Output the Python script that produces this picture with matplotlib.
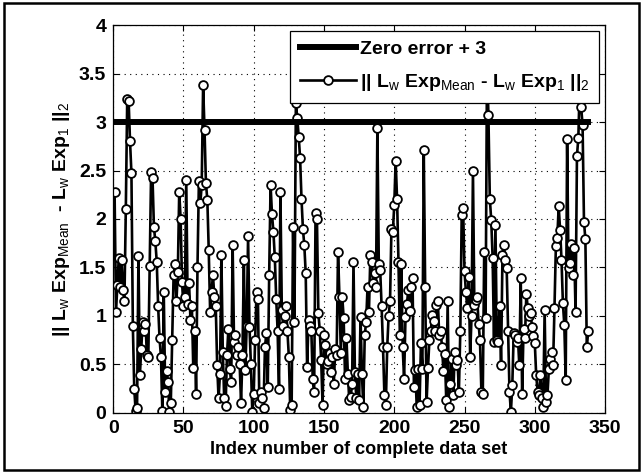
import numpy as np
import matplotlib
matplotlib.use("Agg")
import matplotlib.pyplot as plt
from matplotlib.patches import Rectangle

plt.rcParams['font.family'] = ['Liberation Sans', 'DejaVu Sans']
plt.rcParams['font.weight'] = 'bold'
plt.rcParams['mathtext.fontset'] = 'custom'
plt.rcParams['mathtext.rm'] = 'Liberation Sans:normal'
plt.rcParams['mathtext.bf'] = 'Liberation Sans:bold'

# error values, index 1..338
err_values = [
    2.28, 1.04, 1.32, 1.60, 1.30, 1.58, 1.27, 1.15, 2.10, 3.24,
    3.22, 2.80, 2.47, 0.90, 0.25, 0.02, 0.05, 1.62, 0.39, 0.66,
    0.94, 0.85, 0.92, 0.60, 0.58, 1.52, 2.48, 2.42, 1.92, 1.77,
    1.56, 1.10, 0.77, 0.58, 0.02, 1.25, 0.22, 0.43, 0.32, 0.01,
    0.10, 0.75, 1.42, 1.54, 1.15, 1.45, 2.28, 2.00, 1.35, 1.10,
    1.20, 2.40, 1.12, 1.34, 0.96, 1.10, 0.46, 0.85, 0.20, 1.51,
    2.39, 2.16, 2.35, 3.38, 2.92, 2.37, 2.20, 1.68, 1.04, 1.25,
    1.42, 1.20, 1.10, 0.49, 0.15, 0.40, 1.63, 0.63, 0.15, 0.07,
    0.60, 0.87, 0.45, 0.32, 1.73, 0.73, 0.80, 0.60, 0.68, 0.50,
    0.10, 0.60, 1.58, 0.44, 0.90, 1.82, 0.89, 0.50, 0.01, 0.20,
    0.75, 1.25, 1.18, 0.10, 0.22, 0.15, 0.05, 0.68, 0.82, 0.27,
    1.42, 2.35, 2.05, 1.87, 1.61, 1.18, 0.85, 0.25, 2.28, 1.06,
    0.90, 1.00, 1.10, 0.84, 0.58, 0.03, 0.08, 1.92, 0.94, 3.20,
    3.04, 2.85, 2.63, 2.21, 1.90, 1.73, 1.44, 0.47, 0.96, 0.90,
    0.85, 0.35, 0.22, 2.06, 2.00, 1.03, 0.85, 0.55, 0.08, 0.80,
    0.70, 0.50, 0.54, 0.62, 0.42, 0.58, 0.30, 0.66, 0.60, 1.66,
    1.20, 0.62, 1.20, 0.98, 0.35, 0.77, 0.40, 0.13, 0.16, 0.30,
    1.56, 0.42, 0.15, 0.40, 0.13, 0.99, 0.40, 0.06, 0.80, 0.94,
    1.30, 1.04, 1.63, 1.56, 1.34, 1.44, 1.30, 2.94, 1.54, 1.47,
    1.10, 0.68, 0.18, 0.08, 0.68, 1.00, 1.15, 1.90, 1.87, 2.14,
    2.60, 2.21, 1.56, 0.80, 1.54, 0.68, 0.35, 0.99, 1.12, 1.27,
    1.05, 1.30, 1.39, 0.27, 0.44, 0.06, 0.45, 0.08, 0.72, 0.45,
    2.71, 1.30, 0.11, 0.46, 0.75, 0.84, 1.01, 0.95, 0.84, 1.11,
    1.15, 0.80, 0.84, 0.68, 0.43, 0.61, 0.13, 1.15, 0.06, 0.30,
    0.56, 0.18, 0.63, 0.49, 0.55, 0.22, 0.84, 2.04, 2.11, 1.46,
    1.25, 1.08, 1.40, 0.58, 1.00, 2.49, 1.11, 1.16, 1.20, 0.92,
    0.75, 0.22, 0.20, 1.66, 0.98, 3.60, 3.07, 2.21, 1.99, 1.60,
    0.73, 1.94, 0.75, 0.73, 1.10, 0.49, 1.63, 1.73, 1.58, 1.49,
    0.84, 0.22, 0.01, 0.29, 0.82, 0.80, 0.73, 0.77, 0.49, 1.39,
    0.20, 0.87, 0.77, 1.23, 1.08, 1.00, 1.03, 0.89, 0.79, 0.72,
    0.39, 0.22, 0.18, 0.39, 0.15, 0.06, 1.06, 0.11, 0.18, 0.45,
    0.56, 0.63, 0.49, 1.08, 1.72, 1.80, 2.13, 1.89, 1.58, 1.13,
    0.91, 0.34, 2.82, 1.49, 1.55, 1.74, 1.42, 1.70, 1.04, 2.65,
    2.84, 3.40, 3.15, 2.97, 1.97, 1.79, 0.68, 0.84,
]
zero_error_offset = 3.0
x_ticks = [0, 50, 100, 150, 200, 250, 300, 350]
y_ticks = [0, 0.5, 1, 1.5, 2, 2.5, 3, 3.5, 4]
y_tick_labels = ['0', '0.5', '1', '1.5', '2', '2.5', '3', '3.5', '4']

idx = np.arange(1, len(err_values) + 1)
vals = np.array(err_values)

fig = plt.figure(figsize=(6.43, 4.73), dpi=100)
ax = fig.add_axes([0.176, 0.127, 0.765, 0.82])

ax.plot(idx, np.full(len(idx), zero_error_offset), color='black', lw=4.3,
        label='Zero error + 3', zorder=3)
ax.plot(idx, vals, color='black', lw=1.9, marker='o', ms=6.3, mfc='white',
        mec='black', mew=1.3, zorder=2,
        label=r'|| L$_{\rm w}$ Exp$_{\rm Mean}$ - L$_{\rm w}$ Exp$_{\rm 1}$ ||$_{\rm 2}$')

ax.set_xlim(0, 350)
ax.set_ylim(0, 4)
ax.set_xticks(x_ticks)
ax.set_yticks(y_ticks)
ax.set_yticklabels(y_tick_labels)
ax.tick_params(direction='in', top=True, right=True, labelsize=14, length=4, width=0.8, pad=5)
for lab in ax.get_xticklabels() + ax.get_yticklabels():
    lab.set_fontweight('bold')
ax.grid(True, linestyle=(0, (1, 4)), color='black', lw=0.8)
ax.set_axisbelow(True)
for s in ax.spines.values():
    s.set_linewidth(0.9)

ax.set_xlabel('Index number of complete data set', fontsize=13, fontweight='bold', labelpad=3)
ax.set_ylabel(r'|| L$_{\rm w}$ Exp$_{\rm Mean}$  - L$_{\rm w}$ Exp$_{\rm 1}$ ||$_{\rm 2}$',
              fontsize=14, fontweight='bold', labelpad=5)

leg = ax.legend(loc='upper right', fontsize=14, frameon=True, fancybox=False,
                framealpha=1, edgecolor='black', handlelength=2.9, handletextpad=0.2,
                borderaxespad=0.3, borderpad=0.5, labelspacing=0.7)
leg.get_frame().set_linewidth(0.9)
for t in leg.get_texts():
    t.set_fontweight('bold')

fig.patches.append(Rectangle((0.006, 0.006), 0.988, 0.988, transform=fig.transFigure,
                             fill=False, edgecolor='black', lw=1.8))

fig.savefig('out.png', dpi=100)
